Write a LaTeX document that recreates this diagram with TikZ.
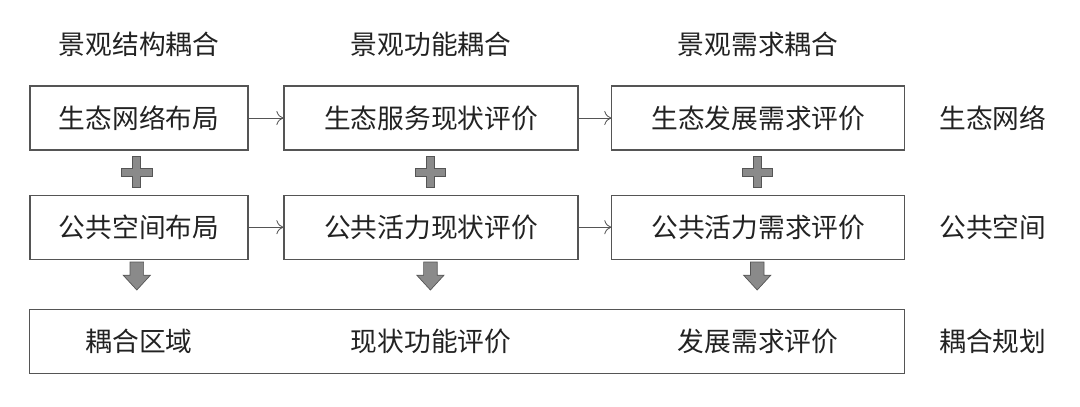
\documentclass[tikz,border=0pt]{standalone}
\usepackage{fontspec}
\setmainfont{Noto Sans CJK SC}
\usetikzlibrary{arrows.meta,positioning}
\definecolor{lnline}{HTML}{555555}
\definecolor{lnfill}{HTML}{8A8A8A}
\definecolor{lntext}{HTML}{222222}
\tikzset{
  box/.style={draw=lnline,line width=0.8pt,minimum height=1.6cm,inner sep=0pt,text=lntext},
  lab/.style={text=lntext,inner sep=0pt},
  flow/.style={draw=lnline,line width=0.6pt,-{To[length=5pt,width=10pt]}},
}
\newcommand{\plusmark}[1]{%
  \fill[lnfill,draw=lnline,line width=0.5pt] ($(#1)+(-0.1,0.38)$) -- ++(0.2,0) -- ++(0,-0.28) -- ++(0.28,0) -- ++(0,-0.2)
    -- ++(-0.28,0) -- ++(0,-0.28) -- ++(-0.2,0) -- ++(0,0.28) -- ++(-0.28,0) -- ++(0,0.2) -- ++(0.28,0) -- cycle;}
\newcommand{\downmark}[1]{%
  \fill[lnfill,draw=lnline,line width=0.5pt] ($(#1)+(-0.17,0.35)$) -- ++(0.34,0) -- ++(0,-0.33) -- ++(0.17,0)
    -- ++(-0.34,-0.37) -- ++(-0.34,0.37) -- ++(0.17,0) -- cycle;}
\usetikzlibrary{calc}
\begin{document}
\begin{tikzpicture}[font=\fontsize{19}{22}\selectfont]
  \useasboundingbox (0,0) rectangle (27,-10.15);

  % ---- headers ----
  \node[lab] (h1) at (3.475,-1.12) {景观结构耦合};
  \node[lab] (h2) at (10.775,-1.12) {景观功能耦合};
  \node[lab] (h3) at (18.95,-1.12) {景观需求耦合};

  % ---- row 1 ----
  \node[box,minimum width=5.45cm] (a1) at (3.475,-2.95) {生态网络布局};
  \node[box,minimum width=7.35cm] (b1) at (10.775,-2.95) {生态服务现状评价};
  \node[box,minimum width=7.325cm] (c1) at (18.96,-2.95) {生态发展需求评价};
  \node[lab] (r1) at (24.82,-2.95) {生态网络};

  % ---- row 2 ----
  \node[box,minimum width=5.45cm] (a2) at (3.475,-5.68) {公共空间布局};
  \node[box,minimum width=7.35cm] (b2) at (10.775,-5.68) {公共活力现状评价};
  \node[box,minimum width=7.325cm] (c2) at (18.96,-5.68) {公共活力需求评价};
  \node[lab] (r2) at (24.82,-5.68) {公共空间};

  % ---- bottom ----
  \node[box,minimum width=21.875cm] (d) at (11.685,-8.53) {};
  \node[lab] (d1) at (3.475,-8.53) {耦合区域};
  \node[lab] (d2) at (10.775,-8.53) {现状功能评价};
  \node[lab] (d3) at (18.95,-8.53) {发展需求评价};
  \node[lab] (r3) at (24.82,-8.53) {耦合规划};

  % ---- connectors ----
  \draw[flow] (a1) -- (b1);
  \draw[flow] (b1) -- (c1);
  \draw[flow] (a2) -- (b2);
  \draw[flow] (b2) -- (c2);

  % ---- plus and down marks ----
  \foreach \x in {3.42,10.76,18.93}{
    \plusmark{\x,-4.3}
    \downmark{\x,-6.9}
  }
\end{tikzpicture}
\end{document}
